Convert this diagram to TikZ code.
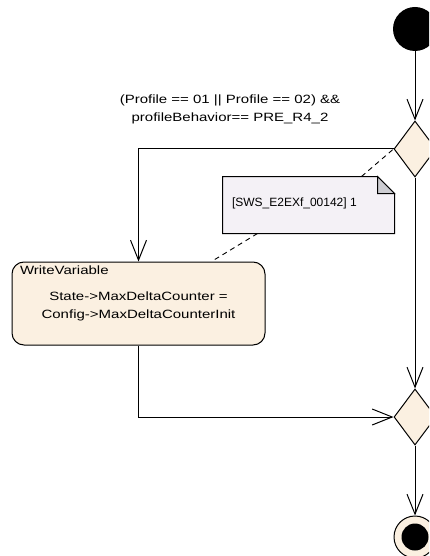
\documentclass[tikz,border=0pt]{standalone}
\usepackage{fontspec}
\setmainfont{Liberation Sans}
\newfontfamily\widesans[FakeStretch=1.25]{Liberation Sans}
\usepackage{tikz}
\usetikzlibrary{positioning}
\usetikzlibrary{shapes}
\usetikzlibrary{arrows.meta}

\definecolor{actionFill}{RGB}{251,240,225}
\definecolor{noteFill}{RGB}{244,241,246}
\definecolor{foldFill}{RGB}{205,205,210}

\begin{document}
\begin{tikzpicture}[x=1pt, y=-1pt, line width=1pt,
		font=\widesans\fontsize{12}{18}\selectfont,
		flow/.style={-{Straight Barb[length=20pt,width=16pt]}, line width=1pt},
		decision/.style={diamond, draw=black, fill=actionFill, line width=1pt, minimum width=42pt, minimum height=56pt, inner sep=0pt},
		anchorline/.style={dash pattern=on 5pt off 4pt, line width=0.9pt}]
		\useasboundingbox (0,0) rectangle (429,556);
		\clip (0,0) rectangle (429,556);

		\node[circle, fill=black, minimum size=44pt, inner sep=0pt](start) at (415,29){};
		\node[decision](decOne) at (415,149){};
		\node[decision](decTwo) at (415,417){};
		\node[circle, draw=black, fill=actionFill, line width=1pt, minimum size=42pt, inner sep=0pt](final) at (415,537){};
		\node[circle, fill=black, minimum size=27pt, inner sep=0pt](finalDot) at (final.center){};

		\node[align=center, inner sep=0pt](guard) at (230,109.5){(Profile == 01 || Profile == 02) \&\&\\profileBehavior== PRE\_R4\_2};

		\node[rectangle, draw=black, fill=actionFill, rounded corners=12pt, line width=1pt, minimum width=253pt, minimum height=83pt, align=center](writeVar) at (138.5,303.5){\\[-3pt]State->MaxDeltaCounter =\\Config->MaxDeltaCounterInit};
		\node[anchor=north west, inner sep=0pt](writeVarTitle) at ([xshift=8pt,yshift=-4pt]writeVar.north west){WriteVariable};

		% note with folded corner
		\node[rectangle, minimum width=171pt, minimum height=56pt, inner sep=0pt](note) at (308.5,205){};
		\filldraw[fill=noteFill, line width=1pt] (note.south west) -- (note.north west) -- ([xshift=-17pt]note.north east) -- ([yshift=-17pt]note.north east) -- (note.south east) -- cycle;
		\draw[fill=foldFill, line width=1pt] ([xshift=-17pt]note.north east) -- ([xshift=-17pt,yshift=-17pt]note.north east) -- ([yshift=-17pt]note.north east) -- cycle;
		\node[anchor=west, inner sep=0pt, font=\rmfamily\fontsize{12}{14}\selectfont](noteText) at ([xshift=9pt,yshift=2pt]note.west){[SWS\_E2EXf\_00142] 1};

		% draw note anchors
		\draw[anchorline] ([xshift=53pt]note.north) -- (decOne.west);
		\draw[anchorline] ([xshift=-51pt]note.south) -- ([xshift=73pt]writeVar.north);

		% draw control flows
		\draw[flow] (start) -- (decOne.north);
		\draw[flow] (decOne.west) -| (writeVar.north);
		\draw[flow] (decOne.south) -- (decTwo.north);
		\draw[flow] (writeVar.south) |- (decTwo.west);
		\draw[flow] (decTwo.south) -- (final.north);
	\end{tikzpicture}
\end{document}
